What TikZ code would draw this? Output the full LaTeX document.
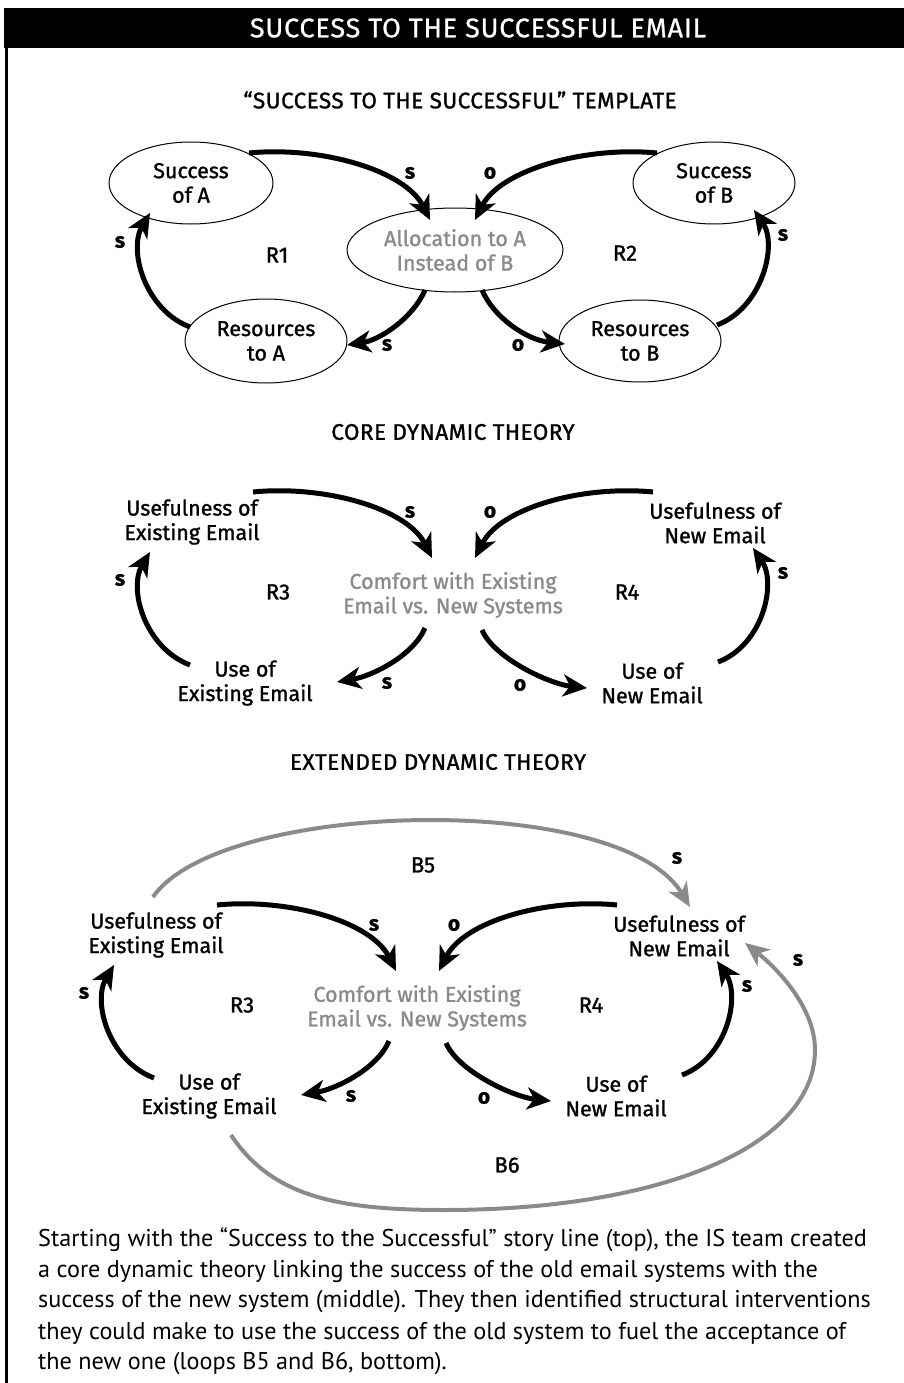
\documentclass[tikz,border=0pt]{standalone}
\usepackage{fontspec}
\setmainfont{Fira Sans}
\newfontfamily\diagfont{Fira Sans}[FakeBold=1.2]
\newfontfamily\headfont{Fira Sans}[FakeBold=1.2,LetterSpace=2]
\newfontfamily\bannerfont{Fira Sans}[FakeBold=0.8,LetterSpace=3]
\newfontfamily\bodyfont{PT Sans}
\usetikzlibrary{arrows.meta,calc,shapes.geometric}
\definecolor{midgray}{RGB}{138,138,138}

\tikzset{
  loopvar/.style={align=center, font=\diagfont\fontsize{21.5}{24.5}\selectfont, inner sep=2pt},
  ringvar/.style={loopvar, draw, ellipse, line width=1pt, inner sep=0pt},
  central/.style={text=midgray},
  link/.style={line width=5pt, -{Stealth[length=24pt,width=22pt,inset=7pt]}},
  balance/.style={line width=4pt, draw=midgray, -{Stealth[length=24pt,width=21pt,inset=7pt,fill=midgray]}},
  sign/.style={font=\diagfont\fontsize{21}{24}\selectfont\bfseries},
  loopname/.style={font=\diagfont\fontsize{22}{24}\selectfont},
  heading/.style={font=\headfont\fontsize{22.5}{26}\selectfont},
  bannertext/.style={text=white, font=\bannerfont\fontsize{27}{30}\selectfont},
  bodyline/.style={anchor=west, inner sep=0pt, font=\bodyfont\fontsize{24.2}{31}\selectfont},
}

% Core reinforcing pair R3/R4, drawn at an offset (#2,#3); #1 prefixes node names
\newcommand\coreloops[3]{%
  \node[loopvar] (#1ue) at ({192+#2},{522+#3}) {Usefulness of\\Existing Email};
  \node[loopvar,central] (#1co) at ({453+#2},{595+#3}) {Comfort with Existing\\Email vs. New Systems};
  \node[loopvar] (#1uu) at ({245+#2},{683+#3}) {Use of\\Existing Email};
  \node[loopvar] (#1un) at ({715+#2},{523+#3}) {Usefulness of\\New Email};
  \node[loopvar] (#1nu) at ({652+#2},{683+#3}) {Use of\\New Email};
  \draw[link] ($(#1ue)+(61,-30)$) .. controls +(71,-7) and +(-25,-50) .. ($(#1co)+(-21,-37)$);
  \draw[link] ($(#1co)+(-28,33)$) .. controls +(-12,28) and +(35,-6) .. ($(#1uu)+(92,-1)$);
  \draw[link] ($(#1uu)+(-55,-18)$) .. controls +(-45,-17) and +(-22,37) .. ($(#1ue)+(-42,30)$);
  \draw[link] ($(#1un)+(-62,-31)$) .. controls +(-71,-7) and +(25,-50) .. ($(#1co)+(22,-37)$);
  \draw[link] ($(#1co)+(29,35)$) .. controls +(12,28) and +(-38,-4) .. ($(#1nu)+(-65,5)$);
  \draw[link] ($(#1nu)+(66,-21)$) .. controls +(45,-17) and +(24,35) .. ($(#1un)+(38,25)$);
  \node[sign] (#1sa) at ({410+#2},{512+#3}) {s};
  \node[sign] (#1sb) at ({490+#2},{512+#3}) {o};
  \node[sign] (#1sc) at ({387+#2},{683+#3}) {s};
  \node[sign] (#1sd) at ({520+#2},{685+#3}) {o};
  \node[sign] (#1se) at ({120+#2},{580+#3}) {s};
  \node[sign] (#1sf) at ({783+#2},{573+#3}) {s};
  \node[loopname] (#1ra) at ({278+#2},{592+#3}) {R3};
  \node[loopname] (#1rb) at ({627+#2},{592+#3}) {R4};
}

\begin{document}
\begin{tikzpicture}[x=1pt,y=-1pt]
\useasboundingbox (0,0) rectangle (904,1383);

% banner and left rule
\fill (4,8) rectangle (904,48);
\node[bannertext] (banner) at (478,28) {SUCCESS TO THE SUCCESSFUL EMAIL};
\draw[line width=3pt] (6.5,48) -- (6.5,1383);

% section headings
\node[heading] (t1) at (460,100) {“SUCCESS TO THE SUCCESSFUL” TEMPLATE};
\node[heading] (t2) at (453,432) {CORE DYNAMIC THEORY};
\node[heading] (t3) at (438,762) {EXTENDED DYNAMIC THEORY};

% template: two reinforcing loops around one allocation
\node[ringvar, minimum width=164pt, minimum height=82pt] (sa) at (191,183) {Success\\of A};
\node[ringvar, central, inner sep=-7pt, minimum width=216pt, minimum height=84pt] (al) at (455,250) {Allocation to A\\Instead of B};
\node[ringvar, inner sep=-2pt, minimum width=162pt, minimum height=84pt] (ra) at (266,341) {Resources\\to A};
\node[ringvar, minimum width=162pt, minimum height=82pt] (sb) at (714,183) {Success\\of B};
\node[ringvar, inner sep=-2pt, minimum width=162pt, minimum height=82pt] (rb) at (640,341) {Resources\\to B};

\draw[link] ($(sa)+(58,-30)$) .. controls +(71,-7) and +(-25,-50) .. ($(al)+(-25,-30)$);
\draw[link] ($(al)+(-30,40)$) .. controls +(-12,28) and +(33,-5) .. ($(ra)+(81,4)$);
\draw[link] ($(ra)+(-76,-14)$) .. controls +(-45,-17) and +(-22,37) .. ($(sa)+(-41,30)$);
\draw[link] ($(sb)+(-57,-30)$) .. controls +(-72,-7) and +(25,-50) .. ($(al)+(20,-30)$);
\draw[link] ($(al)+(27,40)$) .. controls +(12,28) and +(-38,-4) .. ($(rb)+(-75,3)$);
\draw[link] ($(rb)+(77,-16)$) .. controls +(45,-17) and +(24,35) .. ($(sb)+(40,27)$);

\node[sign] (ta) at (410,173) {s};
\node[sign] (tb) at (490,173) {o};
\node[sign] (tc) at (387,345) {s};
\node[sign] (td) at (518,345) {o};
\node[sign] (te) at (120,242) {s};
\node[sign] (tf) at (783,235) {s};
\node[loopname] (r1) at (277,255) {R1};
\node[loopname] (r2) at (625,253) {R2};

% core and extended theory
\coreloops{m}{0}{0}
\coreloops{x}{-36}{413}

% balancing loops B5 and B6
\draw[balance] ($(xue)+(-3,-38)$) .. controls +(67,-97) and +(-70,-117) .. ($(xun)+(11,-29)$);
\coordinate (b6low) at (444,1210);
\coordinate (b6east) at (815,1050);
\draw[balance] ($(xuu)+(22,39)$) .. controls +(40,60) and +(-110,0) .. (b6low)
  .. controls +(220,0) and +(0,95) .. (b6east)
  .. controls +(0,-45) and +(28,22) .. ($(xun)+(66,7)$);
\node[loopname] (b5) at (423,865) {B5};
\node[sign] (g5) at (677,858) {s};
\node[loopname] (b6) at (507,1165) {B6};
\node[sign] (g6) at (798,960) {s};

% caption
\node[bodyline] (c1) at (38,1240) {Starting with the “Success to the Successful” story line (top), the IS team created};
\node[bodyline] (c2) at (38,1271) {a core dynamic theory linking the success of the old email systems with the};
\node[bodyline] (c3) at (38,1302) {success of the new system (middle). They then identified structural interventions};
\node[bodyline] (c4) at (38,1333) {they could make to use the success of the old system to fuel the acceptance of};
\node[bodyline] (c5) at (38,1364) {the new one (loops B5 and B6, bottom).};
\end{tikzpicture}
\end{document}
